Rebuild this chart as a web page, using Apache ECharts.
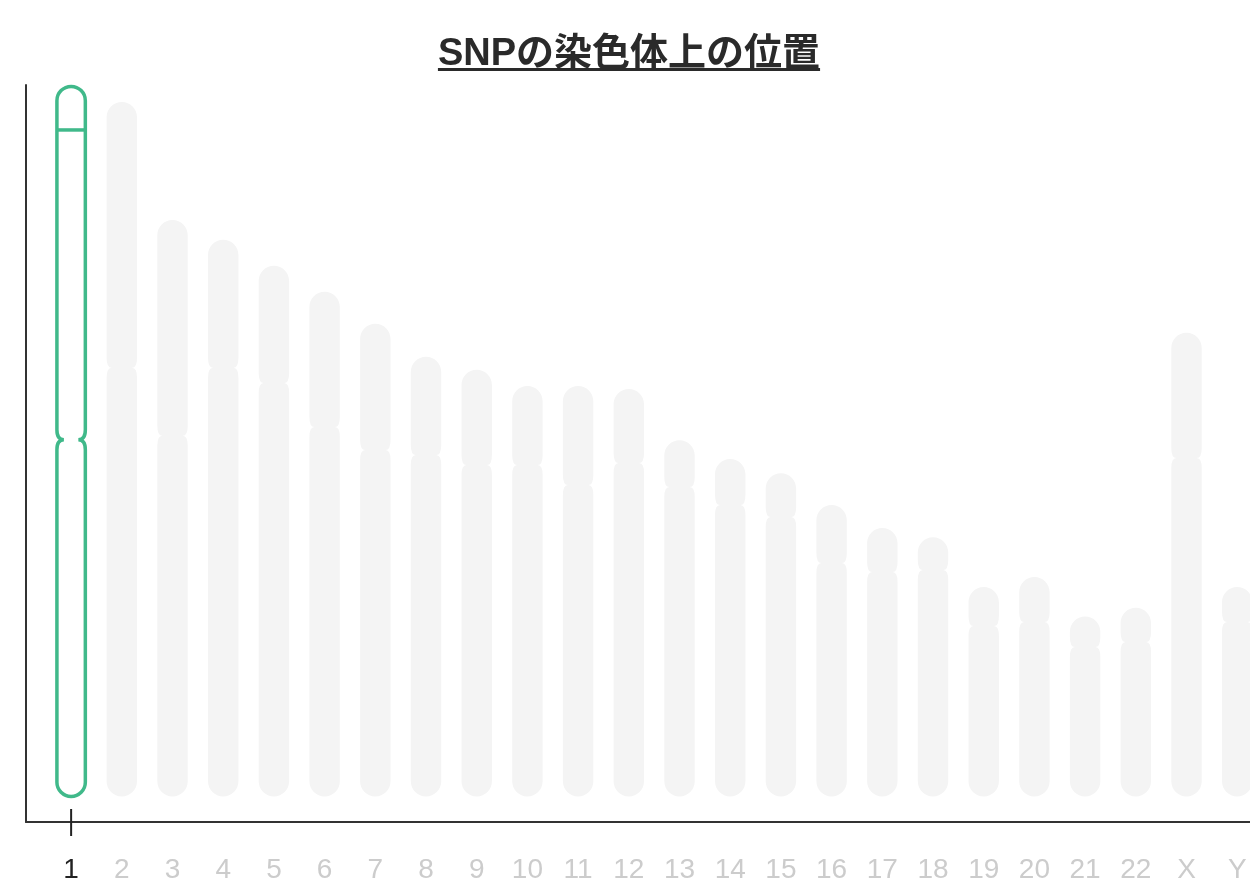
<!DOCTYPE html>
<html lang="ja">
<head>
  <meta charset="UTF-8">
  <title>SNPの染色体上の位置</title>
  <script src="https://cdn.jsdelivr.net/npm/echarts@6.0.0/dist/echarts.min.js"></script>
  <style>
    html, body {
      margin: 0;
      padding: 0;
      background: #ffffff;
      overflow: hidden;
    }
    #title {
      position: absolute;
      left: 0;
      top: 29px;
      width: 1258px;
      margin: 0;
      text-align: center;
      font: bold 38px 'Liberation Sans', 'Noto Sans CJK JP', sans-serif;
      line-height: 46px;
      color: #2a2a2a;
      text-decoration: underline;
      text-decoration-thickness: 3px;
      text-underline-offset: 3px;
      z-index: 2;
    }
    #chart {
      position: absolute;
      left: 0;
      top: 0;
      width: 1258px;
      height: 886px;
    }
  </style>
</head>
<body>
  <h2 id="title">SNPの染色体上の位置</h2>
  <div id="chart"></div>

  <script>
    // 染色体ごとの長さとセントロメア位置
    const chromosomes = ['1', '2', '3', '4', '5', '6', '7', '8', '9', '10', '11', '12',
      '13', '14', '15', '16', '17', '18', '19', '20', '21', '22', 'X', 'Y'];
    const chrLengths = [249.5, 244.0, 202.6, 195.6, 186.5, 177.3, 166.1, 154.5, 149.9, 144.2, 144.2, 143.2,
      125.2, 118.6, 113.6, 102.4, 94.3, 91.1, 73.6, 77.1, 63.2, 66.3, 162.9, 73.6];
    const centromeres = [125.3, 150.6, 126.7, 150.6, 145.3, 129.8, 121.7, 120.0, 116.5, 116.5, 109.4, 117.2,
      108.7, 102.4, 98.2, 82.0, 78.9, 79.6, 59.9, 61.3, 52.5, 54.3, 118.9, 61.3];
    const selectedChr = '1';
    const snpPositions = [234.2];

    const GREEN = '#40b98a';
    const GREY = '#f4f4f4';

    const chart = echarts.init(document.getElementById('chart'));

    // 染色体の形（丸い両端＋セントロメアのくびれ）
    function chromPath(cx, yTop, yBot, yCen, r, d) {
      const k = 0.5523 * r;
      const h = 10;   // くびれの高さ
      return [
        'M', cx - r, yTop + r,
        'C', cx - r, yTop + r - k, cx - k, yTop, cx, yTop,
        'C', cx + k, yTop, cx + r, yTop + r - k, cx + r, yTop + r,
        'L', cx + r, yCen - h,
        'Q', cx + r, yCen, cx + r - d, yCen,
        'Q', cx + r, yCen, cx + r, yCen + h,
        'L', cx + r, yBot - r,
        'C', cx + r, yBot - r + k, cx + k, yBot, cx, yBot,
        'C', cx - k, yBot, cx - r, yBot - r + k, cx - r, yBot - r,
        'L', cx - r, yCen + h,
        'Q', cx - r, yCen, cx - r + d, yCen,
        'Q', cx - r, yCen, cx - r, yCen - h,
        'Z'
      ].join(' ');
    }

    function shapeOf(api) {
      const x = api.value(0);
      const top = api.coord([x, api.value(1)]);
      const bot = api.coord([x, 0]);
      const cen = api.coord([x, api.value(2)]);
      const r = api.size([0.6, 0])[0] / 2;
      return { cx: top[0], top: top[1], bot: bot[1], cen: cen[1], r: r, x: x };
    }

    const greyData = [];
    const selData = [];
    chromosomes.forEach((name, i) => {
      const row = [i + 1, chrLengths[i], centromeres[i]];
      if (name === selectedChr) selData.push(row); else greyData.push(row);
    });

    const option = {
      animation: false,
      grid: { left: 26, right: 0, top: 85, bottom: 64 },
      xAxis: {
        type: 'value',
        min: 0.11,
        max: 24.41,
        axisLine: { onZero: false, lineStyle: { color: '#333', width: 2 } },
        axisTick: { show: false },
        splitLine: { show: false },
        axisLabel: {
          customValues: chromosomes.map((c, i) => i + 1),
          formatter: v => chromosomes[Math.round(v) - 1] || '',
          color: v => chromosomes[Math.round(v) - 1] === selectedChr ? '#222' : '#cccccc',
          fontSize: 28,
          fontFamily: 'Liberation Sans, Arial, sans-serif',
          margin: 34
        }
      },
      yAxis: {
        type: 'value',
        min: -9,
        max: 250,
        axisLine: { show: true, onZero: false, lineStyle: { color: '#333', width: 2 } },
        axisTick: { show: false },
        axisLabel: { show: false },
        splitLine: { show: false }
      },
      series: [
        {
          type: 'custom',
          data: greyData,
          renderItem: (params, api) => {
            const s = shapeOf(api);
            return {
              type: 'path',
              shape: { pathData: chromPath(s.cx, s.top, s.bot, s.cen, s.r, 5) },
              style: { fill: GREY }
            };
          }
        },
        {
          type: 'custom',
          data: selData,
          z: 5,
          renderItem: (params, api) => {
            const s = shapeOf(api);
            const axisY = api.coord([s.x, -9])[1];
            const children = [
              {
                type: 'path',
                shape: { pathData: chromPath(s.cx, s.top, s.bot, s.cen, s.r - 1, 7) },
                style: { fill: '#fff', stroke: GREEN, lineWidth: 3.5 }
              }
            ];
            snpPositions.forEach(p => {
              const y = api.coord([s.x, p])[1];
              children.push({
                type: 'line',
                shape: { x1: s.cx - s.r + 1, y1: y, x2: s.cx + s.r - 1, y2: y },
                style: { stroke: GREEN, lineWidth: 3.5 }
              });
            });
            children.push({
              type: 'line',
              shape: { x1: s.cx, y1: axisY - 13, x2: s.cx, y2: axisY + 14 },
              style: { stroke: '#222', lineWidth: 2 }
            });
            return { type: 'group', children: children };
          }
        }
      ]
    };

    chart.setOption(option);
  </script>
</body>
</html>
